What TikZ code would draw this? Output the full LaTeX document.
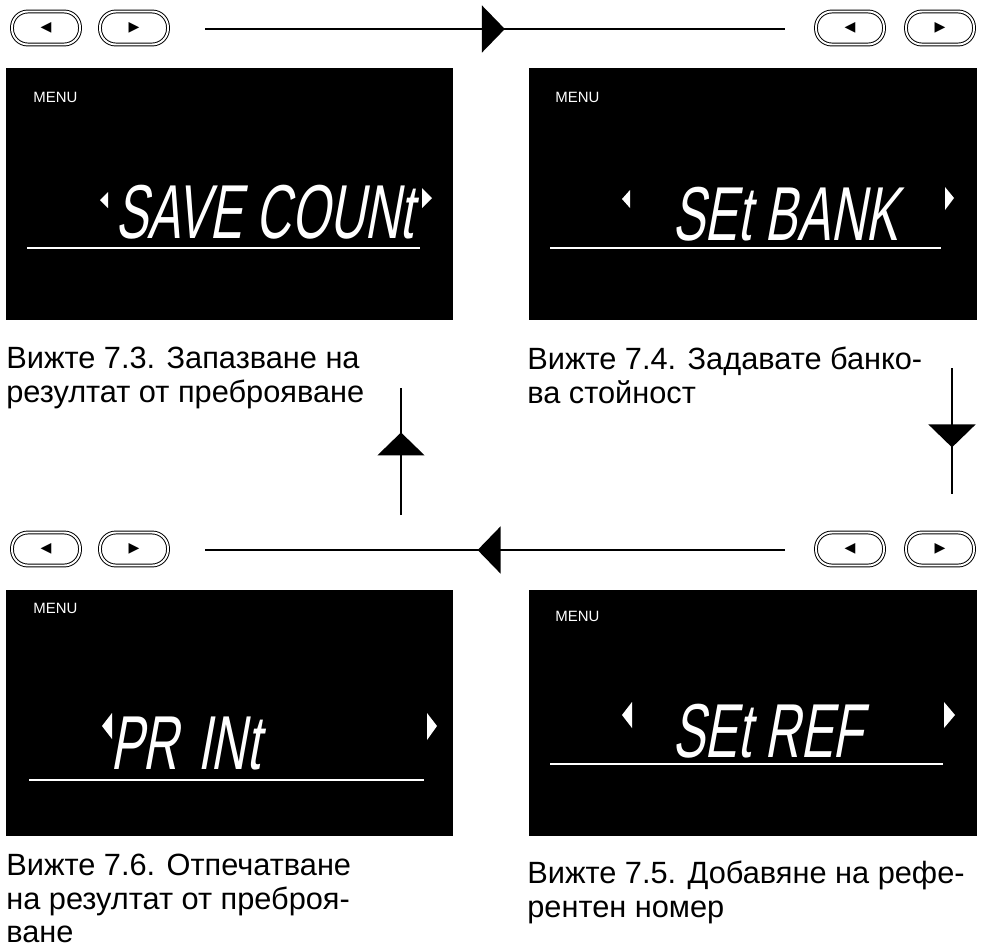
\documentclass[tikz,border=0pt]{standalone}
\usepackage{fontspec}
\setmainfont{Liberation Sans}
\newfontfamily\lcdfont[FakeSlant=0.18,FakeStretch=0.64]{Liberation Sans}
\newfontfamily\symfont{DejaVu Sans}
\usetikzlibrary{arrows.meta,decorations.markings,positioning}

\begin{document}
\begin{tikzpicture}[x=0.02cm, y=-0.02cm,
    screen/.style={fill=black, draw=none, inner sep=0},
    menutext/.style={anchor=west, text=white, inner sep=0, font=\fontsize{8.5}{10}\selectfont},
    lcd/.style={anchor=base west, text=white, inner sep=0, font=\lcdfont\fontsize{43.5}{44}\selectfont},
    caption/.style={anchor=north west, align=left, inner sep=0, font=\fontsize{17.5}{19.1}\selectfont},
    btn/.style={draw=black, double=white, double distance=1.1pt, line width=0.55pt, rounded corners=9pt, minimum width=1.36cm, minimum height=0.66cm, inner sep=0, font=\symfont\fontsize{8}{8}\selectfont},
    flow/.style={line width=1.1pt, postaction=decorate},
    midtip/.style={decoration={markings, mark=at position #1 with {\arrow{Triangle[length=0.46cm, width=0.94cm]}}}}]
    \useasboundingbox (0,0) rectangle (981,947);

    % Screens
    \node[screen, minimum width=8.94cm, minimum height=5.04cm] (scr1) at (229.5,194) {};
    \node[screen, minimum width=8.96cm, minimum height=5.04cm] (scr2) at (753,194) {};
    \node[screen, minimum width=8.94cm, minimum height=4.92cm] (scr3) at (229.5,713) {};
    \node[screen, minimum width=8.96cm, minimum height=4.92cm] (scr4) at (753,713) {};

    % Screen 1: save count
    \node[menutext] (menu1) at (33,97) {MENU};
    \node[lcd] (lcd1) at (115,238) {SAVE COUNt};
    \fill[white] (100,200) -- (108,192) -- (108,208) -- cycle;
    \fill[white] (432,198) -- (422,188) -- (422,208) -- cycle;
    \draw[white, line width=0.9pt] (27,248) -- (420,248);

    % Screen 2: set bank
    \node[menutext] (menu2) at (555,97) {MENU};
    \node[lcd] (lcd2) at (672,240) {SEt BANK};
    \fill[white] (622,199) -- (630,190) -- (630,208) -- cycle;
    \fill[white] (954,198) -- (945,187) -- (945,210) -- cycle;
    \draw[white, line width=0.9pt] (550,248) -- (941,248);

    % Screen 3: print
    \node[menutext] (menu3) at (33,608) {MENU};
    \node[lcd] (lcd3) at (110,769) {PR\hspace{0.25em}INt};
    \fill[white] (102,726) -- (112,713) -- (112,739) -- cycle;
    \fill[white] (437,726) -- (427,713) -- (427,740) -- cycle;
    \draw[white, line width=0.9pt] (29,780) -- (424,780);

    % Screen 4: set ref
    \node[menutext] (menu4) at (555,616) {MENU};
    \node[lcd] (lcd4) at (672,757) {SEt REF};
    \fill[white] (622,715) -- (632,702) -- (632,728) -- cycle;
    \fill[white] (955,715) -- (944,702) -- (944,728) -- cycle;
    \draw[white, line width=0.9pt] (550,764) -- (943,764);

    % Buttons
    \node[btn] (bl1) at (46,28) {◀};
    \node[btn] (br1) at (134,28) {▶};
    \node[btn] (bl2) at (850,28) {◀};
    \node[btn] (br2) at (940,28) {▶};
    \node[btn] (bl3) at (46,549) {◀};
    \node[btn] (br3) at (134,549) {▶};
    \node[btn] (bl4) at (850,549) {◀};
    \node[btn] (br4) at (940,549) {▶};

    % Flow lines
    \coordinate (top1) at (205,29);
    \coordinate (top2) at (785,29);
    \coordinate (rgt1) at (952,368);
    \coordinate (rgt2) at (952,494);
    \coordinate (bot1) at (785,550);
    \coordinate (bot2) at (205,550);
    \coordinate (lft1) at (401,515);
    \coordinate (lft2) at (401,388);
    \draw[flow, midtip=0.517] (top1) -- (top2);
    \draw[flow, midtip=0.63] (rgt1) -- (rgt2);
    \draw[flow, midtip=0.53] (bot1) -- (bot2);
    \draw[flow, midtip=0.65] (lft1) -- (lft2);

    % Captions
    \node[caption] (cap1) at (6,347) {Вижте 7.3. Запазване на\\резултат от преброяване};
    \node[caption] (cap2) at (527,347) {Вижте 7.4. Задавате банко-\\ва стойност};
    \node[caption] (cap3) at (6,854) {Вижте 7.6. Отпечатване\\на резултат от преброя-\\ване};
    \node[caption] (cap4) at (527,861) {Вижте 7.5. Добавяне на рефе-\\рентен номер};
\end{tikzpicture}
\end{document}
